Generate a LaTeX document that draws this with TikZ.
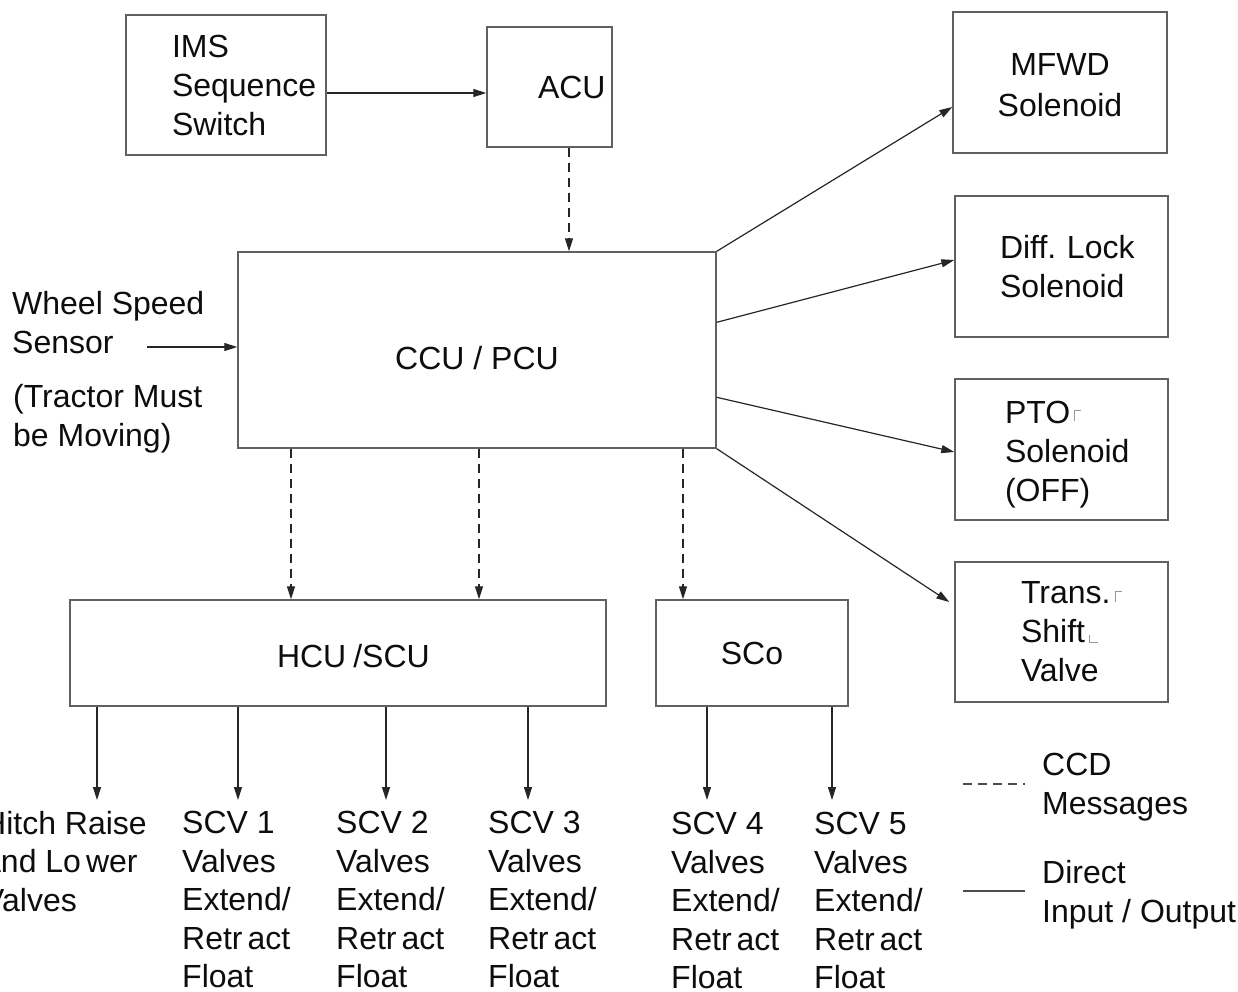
\documentclass[tikz,border=0pt]{standalone}
\usepackage{fontspec}
\setmainfont{Liberation Sans}
\usetikzlibrary{arrows.meta}
\hfuzz=300pt
\hbadness=10000
% small grey corner marks printed after some labels
\newcommand\markTL{\kern4pt{\color{black!40}\rlap{\rule[2pt]{0.9pt}{11pt}}\rule[12.1pt]{7pt}{0.9pt}}}
\newcommand\markBL{\kern4pt{\color{black!40}\rlap{\rule{0.9pt}{8pt}}\rule{9pt}{0.9pt}}}
% shift a line of text down without changing its box size
\newcommand\down[2]{\raisebox{-#1}[\height][\depth]{#2}}
\begin{document}
\begin{tikzpicture}[x=1pt,y=-1pt,
  every node/.style={font=\fontsize{32pt}{39pt}\selectfont, text=black!95},
  unit/.style={draw=black!62, line width=1.4pt, inner ysep=0pt},
  txt/.style={anchor=north west, align=left, inner sep=0pt},
  valvetxt/.style={txt, font=\fontsize{32pt}{38.5pt}\selectfont},
  link/.style={draw=black!85, line width=1.2pt, -{Triangle[length=13pt,width=8pt]}},
  msg/.style={link, dash pattern=on 9pt off 6pt},
  legendline/.style={draw=black!70, line width=1.2pt}]
\useasboundingbox (0,0) rectangle (1238,991);

% control units
\node[unit, minimum height=140pt, text width=108pt, inner xsep=46pt, align=left]
  (ims) at (226,85) {IMS\\Sequence\\Switch};
\node[unit, minimum height=120pt, text width=23pt, inner xsep=51pt, align=left]
  (acu) at (549.5,87) {ACU};
\node[unit, minimum width=478pt, minimum height=196pt, align=center]
  (ccu) at (477,350) {\down{8pt}{CCU / PCU}};
\node[unit, minimum height=106pt, text width=122pt, inner xsep=207pt, align=left]
  (hcu) at (338,653) {\down{3pt}{HCU\kern7pt/SCU}};
\node[unit, minimum width=192pt, minimum height=106pt, align=center]
  (sco) at (752,653) {SCo};

% outputs on the right
\node[unit, minimum width=214pt, minimum height=141pt, align=center]
  (mfwd) at (1060,82.5) {\down{3pt}{MFWD}\\[2pt]\down{3pt}{Solenoid}};
\node[unit, minimum height=141pt, text width=123pt, inner xsep=45pt, align=left]
  (diff) at (1061.5,266.5) {Diff.~Lock\\Solenoid};
\node[unit, minimum height=141pt, text width=113pt, inner xsep=50pt, align=left]
  (pto) at (1061.5,449.5) {\down{5pt}{PTO\markTL}\\\down{5pt}{Solenoid}\\\down{5pt}{(OFF)}};
\node[unit, minimum height=140pt, text width=81pt, inner xsep=66pt, align=left]
  (trans) at (1061.5,632) {Trans.\markTL\\Shift\markBL\\Valve};

% wheel speed input
\node[txt] (wss) at (12,291) {Wheel Speed\\Sensor};
\node[txt] (moving) at (13,384) {(Tractor Must\\be Moving)};

% valve outputs
\node[valvetxt] (hitch) at (-17,811) {Hitch Raise\\and Lo\kern5pt wer\\Valves};
\node[valvetxt] (scv1) at (182,811) {SCV 1\\Valves\\Extend/\\Retr\kern5pt act\\Float};
\node[valvetxt] (scv2) at (336,811) {SCV 2\\Valves\\Extend/\\Retr\kern5pt act\\Float};
\node[valvetxt] (scv3) at (488,811) {SCV 3\\Valves\\Extend/\\Retr\kern5pt act\\Float};
\node[valvetxt] (scv4) at (671,812) {SCV 4\\Valves\\Extend/\\Retr\kern5pt act\\Float};
\node[valvetxt] (scv5) at (814,812) {SCV 5\\Valves\\Extend/\\Retr\kern5pt act\\Float};

% legend
\node[txt] (lgccd) at (1042,753) {CCD\\Messages};
\node[txt] (lgdir) at (1042,860) {Direct\\Input / Output};
\coordinate (lgA) at (963,784);
\coordinate (lgB) at (1025,784);
\coordinate (lgC) at (963,891);
\coordinate (lgD) at (1025,891);
\draw[legendline, dash pattern=on 9pt off 6pt] (lgA) -- (lgB);
\draw[legendline] (lgC) -- (lgD);

% direct connections
\draw[link] ([yshift=-8pt]ims.east) -- ([yshift=-6pt]acu.west);
\coordinate (wsIn) at (147,347);
\draw[link] (wsIn) -- (ccu.west |- wsIn);
\draw[link] (ccu.north east) -- ([yshift=-24.5pt]mfwd.west);
\draw[link] ([yshift=-71pt]ccu.north east) -- ([yshift=6.5pt]diff.west);
\draw[link] ([yshift=-146pt]ccu.north east) -- ([yshift=-2.5pt]pto.west);
\draw[link] (ccu.south east) -- ([xshift=-5pt,yshift=30pt]trans.west);

% CCD messages
\coordinate (d0) at (569,0);
\coordinate (d1) at (291,0);
\coordinate (d2) at (479,0);
\coordinate (d3) at (683,0);
\draw[msg] (acu.south -| d0) -- (ccu.north -| d0);
\draw[msg] (ccu.south -| d1) -- (hcu.north -| d1);
\draw[msg] (ccu.south -| d2) -- (hcu.north -| d2);
\draw[msg] (ccu.south -| d3) -- (sco.north -| d3);

% valve drive lines
\coordinate (o1) at (97,800);
\coordinate (o2) at (238,800);
\coordinate (o3) at (386,800);
\coordinate (o4) at (528,800);
\coordinate (o5) at (707,800);
\coordinate (o6) at (832,800);
\foreach \o in {o1,o2,o3,o4} \draw[link] (hcu.south -| \o) -- (\o);
\foreach \o in {o5,o6} \draw[link] (sco.south -| \o) -- (\o);
\end{tikzpicture}
\end{document}
